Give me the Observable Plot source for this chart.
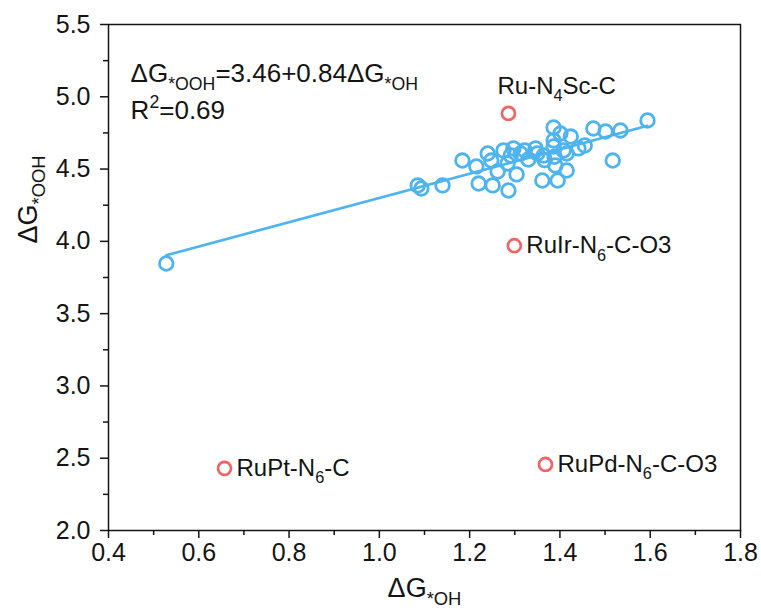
<!DOCTYPE html>
<html>
<head>
<meta charset="utf-8">
<script src="https://cdn.jsdelivr.net/npm/d3@7"></script>
<script src="https://cdn.jsdelivr.net/npm/@observablehq/plot@0.6"></script>
<style>
  body { margin: 0; background: #fff; }
  #chart svg { display: block; }
</style>
</head>
<body>
<div id="chart"></div>
<script>
// Adsorption free energies (eV) of the screened catalysts
const ohValues = [
  0.528, 1.085, 1.093, 1.140, 1.184, 1.215, 1.220, 1.240, 1.248, 1.251,
  1.262, 1.275, 1.284, 1.286, 1.291, 1.297, 1.304, 1.313, 1.322, 1.330,
  1.346, 1.350, 1.361, 1.364, 1.386, 1.386, 1.386, 1.390, 1.395, 1.401,
  1.408, 1.415, 1.424, 1.415, 1.441, 1.455, 1.474, 1.501, 1.534, 1.517,
  1.594, 1.366, 1.388
];
const oohValues = [
  3.847, 4.387, 4.366, 4.387, 4.559, 4.518, 4.400, 4.608, 4.559, 4.387,
  4.483, 4.629, 4.539, 4.352, 4.594, 4.643, 4.463, 4.608, 4.629, 4.566,
  4.643, 4.608, 4.421, 4.594, 4.788, 4.698, 4.656, 4.525, 4.421, 4.746,
  4.629, 4.490, 4.725, 4.608, 4.643, 4.663, 4.781, 4.760, 4.767, 4.559,
  4.836, 4.562, 4.585
];

// Outliers excluded from the scaling relation
const outlierNames = ["Ru-N_{4}Sc-C", "RuIr-N_{6}-C-O3", "RuPt-N_{6}-C", "RuPd-N_{6}-C-O3"];
const outlierOH = [1.286, 1.299, 0.657, 1.368];
const outlierOOH = [4.885, 3.970, 2.430, 2.457];

// Linear scaling relation
const fitIntercept = 3.46;
const fitSlope = 0.84;
const fitR2 = 0.69;

// Axis ticks
const xTicks = [0.4, 0.6, 0.8, 1.0, 1.2, 1.4, 1.6, 1.8];
const xMinorTicks = [0.5, 0.7, 0.9, 1.1, 1.3, 1.5, 1.7];
const yTicks = [2.0, 2.5, 3.0, 3.5, 4.0, 4.5, 5.0, 5.5];
const yMinorTicks = [2.25, 2.75, 3.25, 3.75, 4.25, 4.75, 5.25];

const xTitle = "ΔG_{*OH}";
const yTitle = "ΔG_{*OOH}";

const BLUE = "#4db4f0";
const RED = "#f06464";
const INK = "#141414";
const FONT = "'Liberation Sans', Arial, Helvetica, sans-serif";

const points = ohValues.map((oh, i) => ({oh, ooh: oohValues[i]}));
const outliers = outlierNames.map((name, i) => ({name, oh: outlierOH[i], ooh: outlierOOH[i]}));
const ohExtent = d3.extent(ohValues);
const fitLine = ohExtent.map(oh => ({oh, ooh: fitIntercept + fitSlope * oh}));
const aboveFit = d => d.ooh > fitIntercept + fitSlope * d.oh;

const equation = [
  {text: `ΔG_{*OOH}=${fitIntercept.toFixed(2)}+${fitSlope.toFixed(2)}ΔG_{*OH}`, oh: 0.449, ooh: 5.16},
  {text: `R^{2}=${fitR2.toFixed(2)}`, oh: 0.449, ooh: 4.905}
];

const plot = Plot.plot({
  width: 761,
  height: 614,
  marginLeft: 108,
  marginRight: 21,
  marginTop: 24,
  marginBottom: 84,
  style: {fontFamily: FONT, fontSize: "25px", color: INK, background: "#fff", overflow: "visible"},
  x: {domain: [0.4, 1.8]},
  y: {domain: [2.0, 5.5]},
  marks: [
    Plot.axisX(xMinorTicks, {tickSize: 5, strokeWidth: 1.5, tickFormat: () => "", label: null}),
    Plot.axisX(xTicks, {tickSize: 8, strokeWidth: 1.5, tickPadding: 5, tickFormat: d3.format(".1f"), label: null}),
    Plot.axisY(yMinorTicks, {tickSize: 5, strokeWidth: 1.5, tickFormat: () => "", label: null}),
    Plot.axisY(yTicks, {tickSize: 8, strokeWidth: 1.5, tickPadding: 10, tickFormat: d3.format(".1f"), label: null}),
    Plot.frame({stroke: INK, strokeWidth: 1.5}),
    Plot.line(fitLine, {x: "oh", y: "ooh", stroke: BLUE, strokeWidth: 2.6}),
    Plot.dot(points, {x: "oh", y: "ooh", r: 6.8, stroke: BLUE, strokeWidth: 2.8, fill: "none"}),
    Plot.dot(outliers, {x: "oh", y: "ooh", r: 6.5, stroke: RED, strokeWidth: 2.7, fill: "none"}),
    Plot.text(outliers, {filter: aboveFit, x: "oh", y: "ooh", text: "name", textAnchor: "start", dx: -11, dy: -27, fontSize: 24, fill: INK, className: "rich"}),
    Plot.text(outliers, {filter: d => !aboveFit(d), x: "oh", y: "ooh", text: "name", textAnchor: "start", dx: 12, dy: 0, fontSize: 24, fill: INK, className: "rich"}),
    Plot.text(equation, {x: "oh", y: "ooh", text: "text", textAnchor: "start", fontSize: 26, fill: INK, className: "rich"}),
    Plot.text([xTitle], {frameAnchor: "bottom", dy: 66, text: d => d, fontSize: 27, fill: INK, className: "rich"}),
    Plot.text([yTitle], {frameAnchor: "left", dx: -80, dy: -34, rotate: -90, text: d => d, fontSize: 27, fill: INK, className: "rich"})
  ]
});

// Turn _{...} and ^{...} markup into subscript / superscript tspans
const svgNS = "http://www.w3.org/2000/svg";
function richify(el) {
  const base = parseFloat(getComputedStyle(el).fontSize) || 24;
  const s = el.textContent;
  if (!/[_^]\{/.test(s)) return;
  el.textContent = "";
  const re = /([_^])\{([^}]*)\}|([^_^]+)/g;
  let shift = 0, m;
  while ((m = re.exec(s))) {
    const t = document.createElementNS(svgNS, "tspan");
    let target = 0;
    if (m[3] !== undefined) {
      t.textContent = m[3];
    } else {
      t.textContent = m[2];
      target = m[1] === "_" ? base * 0.3 : -base * 0.4;
      t.setAttribute("font-size", (base * 0.68).toFixed(1));
    }
    t.setAttribute("dy", (target - shift).toFixed(2));
    shift = target;
    el.appendChild(t);
  }
}

document.getElementById("chart").appendChild(plot);
plot.querySelectorAll(".rich text").forEach(richify);
</script>
</body>
</html>
